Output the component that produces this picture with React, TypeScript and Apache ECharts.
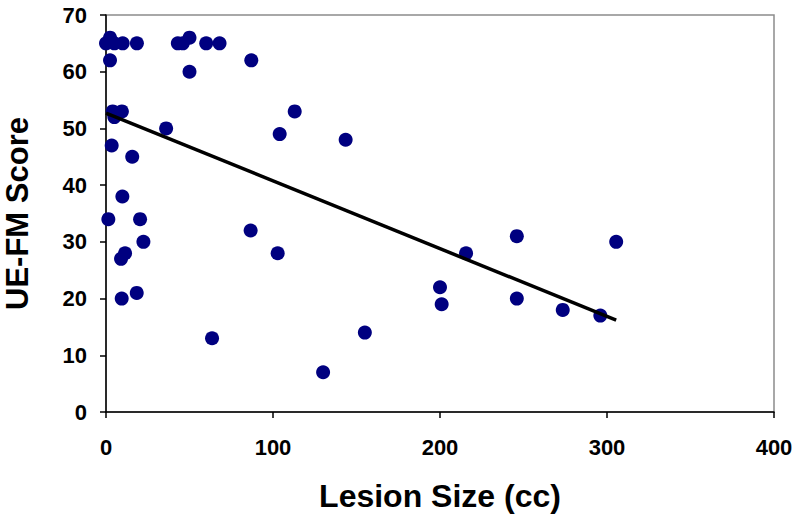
import React, { useEffect, useRef } from "react";
import * as echarts from "echarts";

const lesionSize = [
  0, 2.4, 5, 10, 18.5, 43, 46, 50, 60, 68,
  2.4, 87, 50, 4, 9.5, 5, 36, 104, 3.4, 15.7,
  9.8, 1.4, 20.4, 22.4, 11.4, 9, 9.4, 18.4, 86.6, 102.8,
  63.5, 113, 143.5, 130, 155, 200, 201, 215.6, 246, 246,
  273.5, 296, 305.5,
];
const ueFmScore = [
  65, 66, 65, 65, 65, 65, 65, 66, 65, 65,
  62, 62, 60, 53, 53, 52, 50, 49, 47, 45,
  38, 34, 34, 30, 28, 27, 20, 21, 32, 28,
  13, 53, 48, 7, 14, 22, 19, 28, 31, 20,
  18, 17, 30,
];
const trendX = [0, 305.5];
const trendY = [52.7, 16.2];

const xTicks = { min: 0, max: 400, interval: 100 };
const yTicks = { min: 0, max: 70, interval: 10 };

const FONT = "'Liberation Sans', Arial, sans-serif";

export default function App() {
  const ref = useRef<HTMLDivElement>(null);
  useEffect(() => {
    if (!ref.current) return;
    const chart = echarts.init(ref.current, null, { renderer: "svg" });
    chart.setOption({
      animation: false,
      backgroundColor: "#ffffff",
      grid: {
        left: 106,
        right: 26,
        top: 15,
        bottom: 107,
        containLabel: false,
        outerBoundsMode: "none",
        show: true,
        borderColor: "#8c8c8c",
        borderWidth: 1.5,
        backgroundColor: "transparent",
      },
      xAxis: {
        type: "value",
        min: xTicks.min,
        max: xTicks.max,
        interval: xTicks.interval,
        name: "Lesion Size (cc)",
        nameLocation: "middle",
        nameGap: 68,
        nameTextStyle: { fontFamily: FONT, fontWeight: "bold", fontSize: 32, color: "#000" },
        axisLine: { show: true, onZero: false, lineStyle: { color: "#000", width: 1.5 } },
        axisTick: { show: true, inside: false, length: 6, lineStyle: { color: "#000", width: 1.5 } },
        axisLabel: { fontFamily: FONT, fontWeight: "bold", fontSize: 22, color: "#000", margin: 24 },
        splitLine: { show: false },
      },
      yAxis: {
        type: "value",
        min: yTicks.min,
        max: yTicks.max,
        interval: yTicks.interval,
        name: "UE-FM Score",
        nameLocation: "middle",
        nameGap: 73,
        nameRotate: 90,
        nameTextStyle: { fontFamily: FONT, fontWeight: "bold", fontSize: 31, color: "#000" },
        axisLine: { show: true, onZero: false, lineStyle: { color: "#000", width: 1.5 } },
        axisTick: { show: true, inside: false, length: 6, lineStyle: { color: "#000", width: 1.5 } },
        axisLabel: { fontFamily: FONT, fontWeight: "bold", fontSize: 22, color: "#000", margin: 19 },
        splitLine: { show: false },
      },
      series: [
        {
          type: "scatter",
          data: lesionSize.map((x, i) => [x, ueFmScore[i]]),
          symbol: "circle",
          symbolSize: 14,
          itemStyle: { color: "#000080", opacity: 1 },
          z: 3,
        },
        {
          type: "line",
          data: trendX.map((x, i) => [x, trendY[i]]),
          symbol: "none",
          lineStyle: { color: "#000", width: 3.5 },
          z: 4,
        },
      ],
    });
    return () => chart.dispose();
  }, []);
  return (
    <div
      ref={ref}
      style={{ position: "fixed", left: 0, top: 0, width: 800, height: 519 }}
    />
  );
}
